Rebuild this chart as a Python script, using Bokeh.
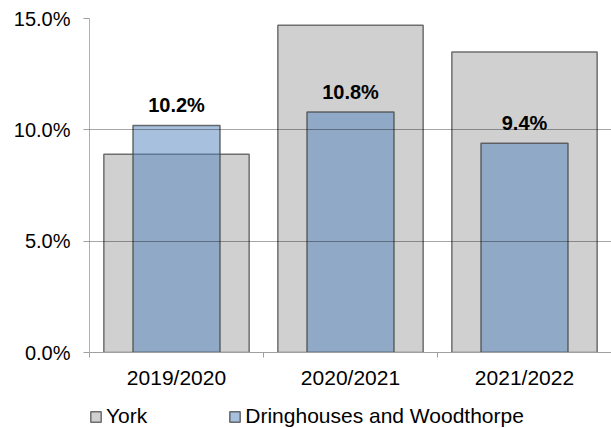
from bokeh.plotting import figure
from bokeh.layouts import column
from bokeh.models import Range1d, FixedTicker, Legend, LegendItem, ColumnDataSource, LabelSet
from bokeh.core.properties import value
from bokeh.embed import file_html
from bokeh.resources import INLINE

years = ["2019/2020", "2020/2021", "2021/2022"]
york = [8.9, 14.7, 13.5]
dring = [10.2, 10.8, 9.4]
y_ticks = [0, 5, 10, 15]
series_names = ["York", "Dringhouses and Woodthorpe"]

xs = [i + 0.5 for i in range(len(years))]
bounds = [i for i in range(len(years) + 1)]
FONT = "Liberation Sans"

YORK_STYLE = dict(fill_color="#d0d0d0", line_color="#6e6e6e", line_width=1.5)
DRING_STYLE = dict(fill_color="#4F81BD", fill_alpha=0.5, line_color="#4a4a4a",
                   line_width=1.5, line_alpha=0.8)

p = figure(width=611, height=391, output_backend="svg", toolbar_location=None,
           x_range=Range1d(0, len(years)), y_range=Range1d(0, 15),
           min_border_left=89, min_border_top=18, min_border_right=0, min_border_bottom=37)
p.outline_line_color = None

src = ColumnDataSource(dict(x=xs, york=york, dring=dring,
                            lab=[f"{v:.1f}%" for v in dring]))

p.vbar(x="x", top="york", width=0.835, source=src, **YORK_STYLE)
p.vbar(x="x", top="dring", width=0.5, source=src, **DRING_STYLE)

labels = LabelSet(x="x", y="dring", text="lab", source=src, y_offset=13,
                  text_align="center", text_baseline="alphabetic",
                  text_font=value(FONT), text_font_size=value("20px"),
                  text_font_style=value("bold"), text_color=value("black"))
p.add_layout(labels)

# axes
p.xaxis.ticker = FixedTicker(ticks=xs, minor_ticks=bounds)
p.xaxis.major_label_overrides = {x: y for x, y in zip(xs, years)}
p.xaxis.major_tick_out = 0
p.xaxis.major_tick_in = 0
p.xaxis.minor_tick_out = 5
p.xaxis.minor_tick_in = 0
p.xaxis.minor_tick_line_color = "#a0a0a0"
p.xaxis.axis_line_color = "#a0a0a0"
p.xaxis.major_label_standoff = 8
p.xaxis.major_label_text_font_size = "21px"

p.yaxis.ticker = FixedTicker(ticks=y_ticks)
p.yaxis.major_label_overrides = {t: f"{t:.1f}%" for t in y_ticks}
p.yaxis.major_tick_out = 6
p.yaxis.major_tick_in = 0
p.yaxis.minor_tick_out = 0
p.yaxis.minor_tick_in = 0
p.yaxis.major_tick_line_color = "#a0a0a0"
p.yaxis.axis_line_color = "#b0b0b0"
p.yaxis.major_label_standoff = 13
p.yaxis.major_label_text_font_size = "20px"

for ax in (p.xaxis, p.yaxis):
    ax.major_label_text_font = FONT
    ax.major_label_text_color = "black"

p.xgrid.visible = False
p.ygrid.ticker = FixedTicker(ticks=y_ticks)
p.ygrid.grid_line_color = "black"
p.ygrid.grid_line_alpha = 0.35
p.ygrid.level = "guide"

# legend row (separate strip under the chart)
lg = figure(width=611, height=37, output_backend="svg", toolbar_location=None,
            min_border_left=89, min_border_right=0, min_border_top=0, min_border_bottom=0,
            x_range=Range1d(0, 1), y_range=Range1d(0, 1),
            x_axis_location=None, y_axis_location=None)
lg.grid.visible = False
lg.outline_line_color = None
d1 = lg.vbar(x="x", top="york", width=0.5, source=src, visible=False, **YORK_STYLE)
d2 = lg.vbar(x="x", top="dring", width=0.5, source=src, visible=False, **DRING_STYLE)

legend = Legend(items=[LegendItem(label=series_names[0], renderers=[d1]),
                       LegendItem(label=series_names[1], renderers=[d2])],
                orientation="horizontal", location=(0, 0),
                label_text_font=FONT, label_text_font_size="21px", label_text_color="black",
                glyph_width=13, glyph_height=13, spacing=81, label_standoff=4,
                padding=3, margin=0, border_line_color=None, background_fill_alpha=0,
                inactive_fill_alpha=0)
lg.add_layout(legend)

layout = column(p, lg, spacing=0)
open("out.html", "w").write(file_html(layout, INLINE))
